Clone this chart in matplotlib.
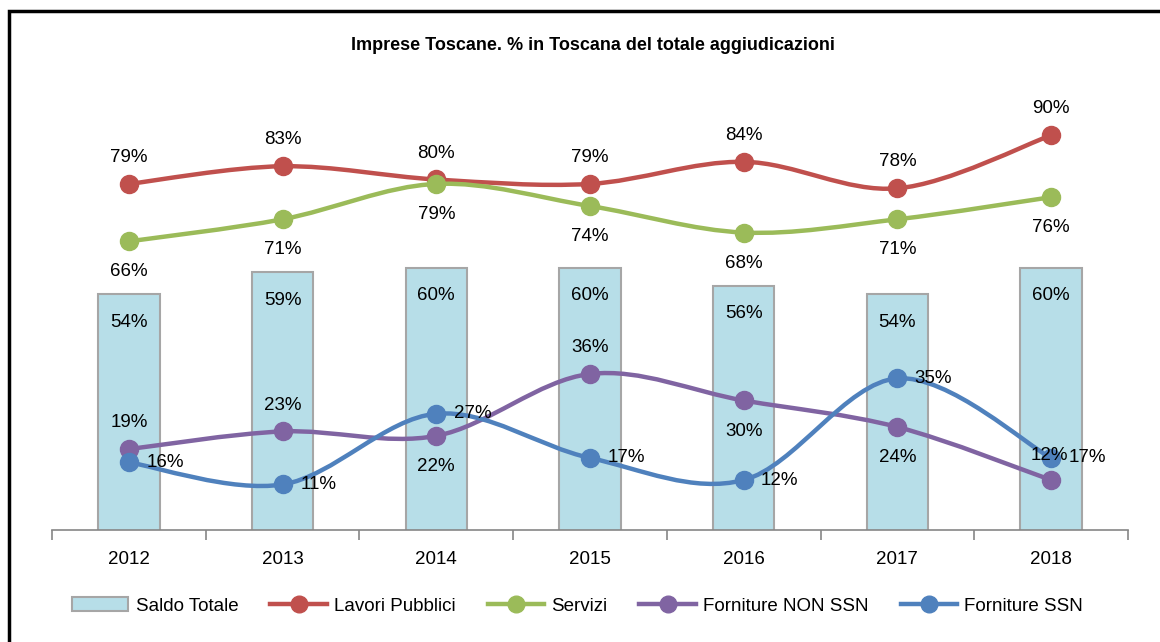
import matplotlib
matplotlib.use("Agg")
import matplotlib.pyplot as plt
from matplotlib.path import Path
from matplotlib.patches import PathPatch, Rectangle, Patch
from matplotlib.lines import Line2D
import numpy as np

plt.rcParams['font.family'] = ['Liberation Sans', 'DejaVu Sans']

years = ['2012', '2013', '2014', '2015', '2016', '2017', '2018']
saldo_totale = [54, 59, 60, 60, 56, 54, 60]
lavori_pubblici = [79, 83, 80, 79, 84, 78, 90]
servizi = [66, 71, 79, 74, 68, 71, 76]
forniture_non_ssn = [19, 23, 22, 36, 30, 24, 12]
forniture_ssn = [16, 11, 27, 17, 12, 35, 17]

C_BAR = '#B7DEE8'
C_RED = '#C0504D'
C_GREEN = '#9BBB59'
C_PURPLE = '#8064A2'
C_BLUE = '#4F81BD'


def smooth_path(xs, ys):
    # cubic bezier through every point, catmull-rom style tangents
    pts = np.column_stack([xs, ys]).astype(float)
    n = len(pts)
    verts = [pts[0]]
    codes = [Path.MOVETO]
    for i in range(n - 1):
        p0 = pts[max(i - 1, 0)]
        p1 = pts[i]
        p2 = pts[i + 1]
        p3 = pts[min(i + 2, n - 1)]
        c1 = p1 + (p2 - p0) / 6.0
        c2 = p2 - (p3 - p1) / 6.0
        verts += [c1, c2, p2]
        codes += [Path.CURVE4] * 3
    return Path(verts, codes)


fig = plt.figure(figsize=(11.6, 6.42), dpi=100)
ax = fig.add_axes([52 / 1160, (642 - 530) / 642, 1076 / 1160, 442 / 642])

x = np.arange(len(years))
ax.bar(x, saldo_totale, width=0.4, color=C_BAR, edgecolor='#A6A6A6', linewidth=1.5, zorder=1)
for xi, v in zip(x, saldo_totale):
    ax.annotate(f'{v}%', (xi, v), xytext=(0, -20), textcoords='offset points',
                ha='center', va='center', fontsize=13.5, zorder=10)

series = [
    (lavori_pubblici, C_RED, 'Lavori Pubblici'),
    (servizi, C_GREEN, 'Servizi'),
    (forniture_non_ssn, C_PURPLE, 'Forniture NON SSN'),
    (forniture_ssn, C_BLUE, 'Forniture SSN'),
]
for k, (vals, col, name) in enumerate(series):
    z = 3 + k
    ax.add_patch(PathPatch(smooth_path(x, vals), fill=False, edgecolor=col,
                           linewidth=3.2, capstyle='round', zorder=z))
    ax.plot(x, vals, ls='none', marker='o', markersize=13, color=col, zorder=z)

# label offsets in points (dx, dy)
above = (0, 19)
below = (0, -22)
right = (26, 0)
label_pos = {
    'Lavori Pubblici': [above] * 7,
    'Servizi': [below] * 7,
    'Forniture NON SSN': [above, above, below, above, below, below, (-1, 18)],
    'Forniture SSN': [right] * 7,
}
for vals, col, name in series:
    for xi, v, (dx, dy) in zip(x, vals, label_pos[name]):
        ax.annotate(f'{v}%', (xi, v), xytext=(dx, dy), textcoords='offset points',
                    ha='center', va='center', fontsize=13.5, zorder=10)

ax.set_xlim(-0.5, len(years) - 0.5)
ax.set_ylim(0.7, 100.7)
for s in ['top', 'right', 'left']:
    ax.spines[s].set_visible(False)
ax.spines['bottom'].set_color('#868686')
ax.spines['bottom'].set_linewidth(1.2)
ax.set_yticks([])
ax.set_xticks(np.arange(-0.5, len(years), 1.0))
ax.set_xticklabels([])
ax.set_xticks(x, minor=True)
ax.set_xticklabels(years, minor=True, fontsize=13.5)
ax.tick_params(axis='x', which='major', direction='out', length=7, width=1.2, color='#868686')
ax.tick_params(axis='x', which='minor', length=0, pad=15)

fig.text(0.511, 1 - 45 / 642, 'Imprese Toscane. % in Toscana del totale aggiudicazioni',
         ha='center', va='center', fontsize=13, fontweight='bold')

handles = [Patch(facecolor=C_BAR, edgecolor='#A6A6A6', linewidth=1.5)]
for vals, col, name in series:
    handles.append(Line2D([], [], color=col, linewidth=3.2, marker='o', markersize=12))
labels = ['Saldo Totale'] + [s[2] for s in series]
fig.legend(handles, labels, loc='center', bbox_to_anchor=(0.498, 1 - 606 / 642), ncol=5,
           frameon=False, fontsize=13.5, handlelength=3.0, handletextpad=0.4, columnspacing=1.7)

fig.add_artist(Rectangle((9 / 1160, -0.05), 1.2, 1 - 11 / 642 + 0.05, transform=fig.transFigure,
                         fill=False, edgecolor='black', linewidth=2.5))

fig.savefig('out.png', dpi=100)
